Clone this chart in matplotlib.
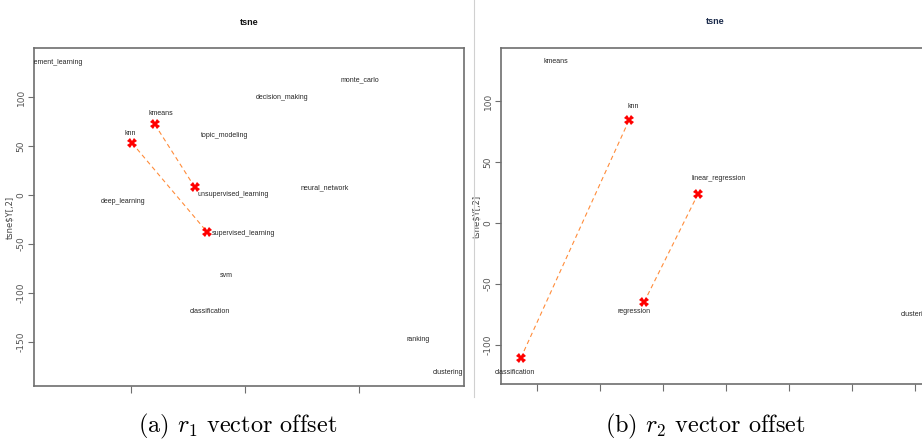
import matplotlib
matplotlib.use("Agg")
import matplotlib.pyplot as plt
from matplotlib.lines import Line2D

plt.rcParams["mathtext.fontset"] = "cm"

# panel (a): r1 vector offset
words_a = ["reinforcement_learning", "monte_carlo", "decision_making", "kmeans", "knn",
           "topic_modeling", "unsupervised_learning", "neural_network", "deep_learning",
           "supervised_learning", "svm", "classification", "ranking", "clustering"]
x_a = [-174, 101, 33, -79, -99, -18, -44, 70, -107, -33, -16, -31, 152, 178]
y_a = [135, 118, 99, 72, 53, 61, 8, 7, -7, -38, -82, -119, -148, -181]
pairs_a = [("knn", "supervised_learning"), ("kmeans", "unsupervised_learning")]
yticks_a = [-150, -100, -50, 0, 50, 100]
xticks_a = [-100, 0, 100]

# panel (b): r2 vector offset
words_b = ["kmeans", "knn", "linear_regression", "regression", "classification", "clustering"]
x_b = [-85, -27, 28, -15, -113, 201]
y_b = [132, 84, 24, -65, -111, -75]
pairs_b = [("knn", "classification"), ("linear_regression", "regression")]
yticks_b = [-100, -50, 0, 50, 100]
xticks_b = [-100, -50, 0, 50, 100, 150, 200]

# label offsets (points) for the marked words
LABEL_OFFSET = {
    "a": {"knn": (-1, 7), "kmeans": (4, 8), "unsupervised_learning": (2, -5),
          "supervised_learning": (3, -1)},
    "b": {"knn": (3, 10), "linear_regression": (15, 11), "regression": (-7, -7),
          "classification": (-4, -10)},
}
LABEL_HA = {"unsupervised_learning": "left", "supervised_learning": "left"}

WORD_FONT = ["Liberation Sans", "DejaVu Sans"]
WORD_SIZE = 5.0
WORD_COLOR = "#262626"
FRAME = "#6e6e6e"


def draw_panel(ax, key, words, xs, ys, pairs, xticks, yticks, xlim, ylim):
    marked = {w for pair in pairs for w in pair}
    pos = {w: (x, y) for w, x, y in zip(words, xs, ys)}
    for a, b in pairs:
        ax.plot([pos[a][0], pos[b][0]], [pos[a][1], pos[b][1]], color="#ff8c3a",
                linestyle=(0, (4, 3)), linewidth=0.8, zorder=1)
    for w in words:
        x, y = pos[w]
        if w in marked:
            ax.plot(x, y, marker="X", color="red", markersize=7, markeredgewidth=0, zorder=3)
            ax.annotate(w, (x, y), xytext=LABEL_OFFSET[key][w], textcoords="offset points",
                        ha=LABEL_HA.get(w, "center"), va="center", fontsize=WORD_SIZE,
                        family=WORD_FONT, color=WORD_COLOR, annotation_clip=False)
        else:
            ax.text(x, y, w, ha="center", va="center", fontsize=WORD_SIZE, family=WORD_FONT,
                    color=WORD_COLOR, clip_on=True)
    ax.set_xlim(*xlim)
    ax.set_ylim(*ylim)
    ax.set_xticks(xticks)
    ax.set_xticklabels([])
    ax.set_yticks(yticks)
    ax.set_yticklabels([str(t) for t in yticks], rotation=90, va="center", fontsize=6.5,
                       color="#555555")
    ax.tick_params(axis="x", length=5, color=FRAME, direction="out")
    ax.tick_params(axis="y", length=4, color=FRAME, direction="out", pad=2)
    for spine in ax.spines.values():
        spine.set_color(FRAME)
        spine.set_linewidth(1.2)
    ax.set_ylabel(r"tsne\$Y[,2]", fontsize=6, color="#444444", labelpad=2)


fig = plt.figure(figsize=(9.22, 4.41), dpi=100)
ax_a = fig.add_axes([0.0369, 0.1247, 0.466, 0.7665])
ax_b = fig.add_axes([0.5434, 0.1292, 0.466, 0.762])

draw_panel(ax_a, "a", words_a, x_a, y_a, pairs_a, xticks_a, yticks_a, (-185, 192), (-195, 150))
draw_panel(ax_b, "b", words_b, x_b, y_b, pairs_b, xticks_b, yticks_b, (-128.6, 212.7), (-132, 143.4))
ax_b.spines["right"].set_visible(False)

fig.text(0.270, 0.948, "tsne", ha="center", va="center", fontsize=6.5, fontweight="bold",
         family=WORD_FONT, color="#111111")
fig.text(0.776, 0.952, "tsne", ha="center", va="center", fontsize=6.5, fontweight="bold",
         family=WORD_FONT, color="#1a2a4a")

fig.add_artist(Line2D([0.514, 0.514], [0.10, 1.0], transform=fig.transFigure,
                      color="#d0d0d0", linewidth=0.8))

fig.text(0.258, 0.032, r"(a) $r_1$ vector offset", ha="center", va="center", fontsize=17.5,
         family="cmr10")
fig.text(0.765, 0.032, r"(b) $r_2$ vector offset", ha="center", va="center", fontsize=17.5,
         family="cmr10")

fig.savefig("out.png", dpi=100)
